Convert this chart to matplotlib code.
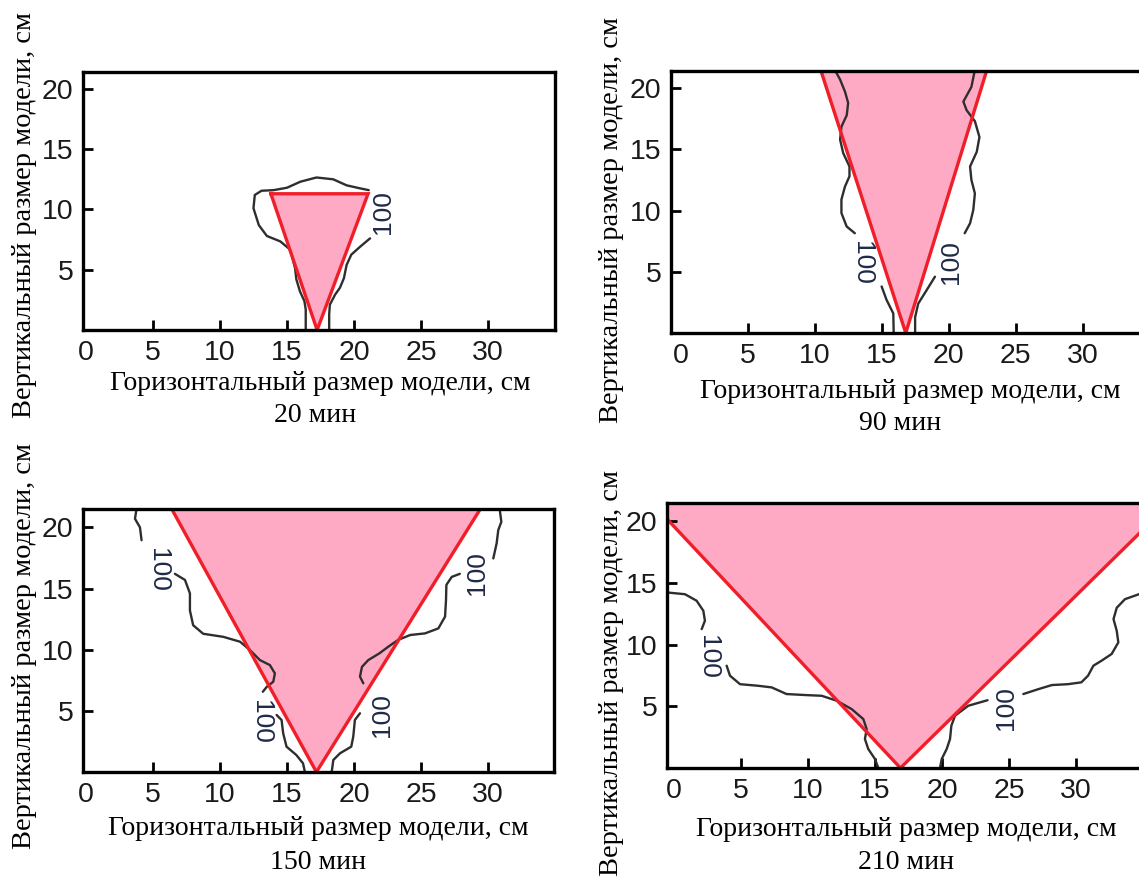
import matplotlib
matplotlib.use('Agg')
import matplotlib.pyplot as plt
from matplotlib.patches import Polygon

# ---------------- data ----------------
captions = ['20 мин', '90 мин', '150 мин', '210 мин']
xlabel_text = 'Горизонтальный размер модели, см'
ylabel_text = 'Вертикальный размер модели, см'
xticks = [0, 5, 10, 15, 20, 25, 30]
yticks = [5, 10, 15, 20]
contour_value = '100'

# panel 1 (20 min)
p1_tri_x = [17.25, 13.8, 21.05]
p1_tri_y = [0.0, 11.3, 11.3]
p1_closed = True
p1_seg1_x = [16.4, 16.4, 16.3, 15.97, 15.7, 15.6, 15.4, 15.2, 14.5, 13.5, 12.9, 12.5, 12.6, 13.1, 14.0, 15.0, 16.0, 17.2, 18.45, 19.45, 20.45, 21.1]
p1_seg1_y = [0.0, 1.7, 2.4, 3.2, 4.2, 5.15, 6.0, 6.7, 7.35, 7.8, 8.7, 10.1, 11.2, 11.55, 11.6, 11.8, 12.3, 12.65, 12.5, 12.0, 11.75, 11.6]
p1_seg2_x = [21.2, 20.45, 19.8, 19.45, 19.25, 18.95, 18.6, 18.2, 18.15, 18.15]
p1_seg2_y = [7.6, 6.9, 6.25, 5.4, 4.3, 3.5, 2.95, 2.1, 1.3, 0.0]
p1_lab_x = [22.2]
p1_lab_y = [9.8]
p1_lab_rot = [90]

# panel 2 (90 min)
p2_tri_x = [16.8, 10.3, 23.0]
p2_tri_y = [0.0, 22.0, 22.0]
p2_closed = False
p2_seg1_x = [11.45, 11.9, 12.27, 12.5, 12.4, 12.0, 11.9, 12.13, 12.6, 12.6, 12.26, 12.0, 12.0, 12.39, 13.0]
p2_seg1_y = [21.6, 20.7, 19.7, 18.8, 17.8, 16.85, 15.8, 14.7, 13.6, 12.8, 11.95, 10.9, 9.8, 8.7, 8.15]
p2_seg2_x = [15.0, 15.37, 15.87, 15.9]
p2_seg2_y = [3.8, 2.7, 1.6, 0.0]
p2_seg3_x = [21.98, 21.7, 21.1, 21.34, 21.96, 22.3, 22.1, 21.6, 21.7, 21.96, 21.84, 21.6, 21.2]
p2_seg3_y = [21.6, 20.1, 18.9, 18.2, 17.3, 16.0, 14.8, 13.6, 12.5, 11.4, 10.05, 8.96, 8.15]
p2_seg4_x = [18.98, 18.36, 17.73, 17.5, 17.5]
p2_seg4_y = [4.6, 3.5, 2.4, 1.3, 0.0]
p2_lab_x = [13.5, 20.2]
p2_lab_y = [5.7, 5.8]
p2_lab_rot = [-90, 90]

# panel 3 (150 min)
p3_tri_x = [17.2, 5.9, 30.0]
p3_tri_y = [0.0, 22.5, 22.5]
p3_closed = False
p3_seg1_x = [3.8, 3.66, 4.03, 4.15]
p3_seg1_y = [21.7, 20.7, 20.0, 18.95]
p3_seg2_x = [6.64, 7.39, 7.76, 7.76, 8.0, 8.75, 10.25, 11.5, 12.24, 12.98, 13.73, 14.1, 13.98, 13.5, 13.2]
p3_seg2_y = [16.2, 15.7, 14.6, 13.2, 12.0, 11.3, 11.05, 10.65, 9.97, 9.15, 8.74, 8.06, 7.38, 6.97, 6.56]
p3_seg3_x = [14.23, 14.6, 14.72, 14.97, 15.7, 16.2, 16.34]
p3_seg3_y = [4.66, 4.25, 3.16, 2.07, 1.39, 0.71, 0.0]
p3_seg4_x = [30.85, 31.0, 30.77, 30.65, 30.4]
p3_seg4_y = [21.7, 20.45, 19.77, 18.7, 17.46]
p3_seg5_x = [27.9, 27.3, 26.9, 26.87, 26.8, 26.3, 25.3, 24.2, 23.3, 22.56, 21.9, 21.07, 20.6, 20.45, 20.7]
p3_seg5_y = [16.2, 15.95, 15.3, 14.05, 12.7, 11.74, 11.33, 11.2, 10.8, 10.24, 9.7, 9.15, 8.6, 7.8, 7.25]
p3_seg6_x = [20.45, 20.07, 19.95, 19.8, 18.96, 18.46, 18.34]
p3_seg6_y = [4.8, 4.25, 2.9, 2.07, 1.53, 0.98, 0.0]
p3_lab_x = [5.4, 13.1, 29.15, 22.07]
p3_lab_y = [16.5, 4.1, 16.3, 4.66]
p3_lab_rot = [-90, -90, 90, 90]

# panel 4 (210 min)
p4_tri_x = [16.9, -2.07, 37.5]
p4_tri_y = [0.0, 22.0, 22.0]
p4_closed = False
p4_seg1_x = [-0.6, 0.82, 1.69, 2.19, 2.31, 2.07]
p4_seg1_y = [14.25, 14.1, 13.57, 12.76, 11.95, 11.27]
p4_seg2_x = [3.93, 4.18, 4.93, 6.29, 7.29, 8.4, 9.78, 11.02, 12.14, 13.26, 14.13, 14.38, 14.25, 14.5, 15.0, 15.25]
p4_seg2_y = [8.3, 7.49, 6.8, 6.67, 6.54, 6.0, 5.92, 5.86, 5.46, 4.78, 3.97, 3.16, 2.35, 1.54, 0.73, 0.0]
p4_seg3_x = [35.5, 34.7, 33.66, 33.04, 32.8, 33.04, 33.16, 32.66, 31.9, 31.3, 30.9, 30.4, 29.4, 28.2, 27.2, 26.07]
p4_seg3_y = [14.3, 14.1, 13.7, 13.0, 12.08, 11.13, 10.19, 9.25, 8.7, 8.3, 7.49, 6.95, 6.8, 6.73, 6.4, 6.0]
p4_seg4_x = [23.4, 21.96, 20.97, 20.7, 20.6, 20.35, 19.98, 19.85]
p4_seg4_y = [5.5, 5.05, 4.24, 3.43, 2.35, 1.54, 0.73, 0.0]
p4_lab_x = [2.56, 24.75]
p4_lab_y = [8.98, 4.85]
p4_lab_rot = [-90, 90]

# ---------------- layout / style ----------------
W, H = 1139, 880
fig = plt.figure(figsize=(W / 100, H / 100), dpi=100)
fig.patch.set_facecolor('white')

SANS = ['Liberation Sans', 'DejaVu Sans']
SERIF = ['Liberation Serif', 'DejaVu Serif']
PINK = '#FFAAC5'
RED = '#F01E28'
LINE = '#2e2e2e'
LABC = '#1f2a48'

# pixel boxes: left, top, width, bottom ; xlim ; ylim
boxes = [
    dict(l=83, t=72, w=472, b=330, xlim=(-0.22, 35.0), ylim=(0, 21.4)),
    dict(l=671, t=71, w=477, b=333, xlim=(-0.72, 34.88), ylim=(0, 21.4)),
    dict(l=83, t=509, w=471, b=772, xlim=(-0.22, 34.93), ylim=(0, 21.5)),
    dict(l=667, t=503, w=478, b=768, xlim=(-0.52, 35.15), ylim=(0, 21.5)),
]
panels = [
    (p1_tri_x, p1_tri_y, p1_closed, [(p1_seg1_x, p1_seg1_y), (p1_seg2_x, p1_seg2_y)],
     (p1_lab_x, p1_lab_y, p1_lab_rot)),
    (p2_tri_x, p2_tri_y, p2_closed, [(p2_seg1_x, p2_seg1_y), (p2_seg2_x, p2_seg2_y),
                                     (p2_seg3_x, p2_seg3_y), (p2_seg4_x, p2_seg4_y)],
     (p2_lab_x, p2_lab_y, p2_lab_rot)),
    (p3_tri_x, p3_tri_y, p3_closed, [(p3_seg1_x, p3_seg1_y), (p3_seg2_x, p3_seg2_y),
                                     (p3_seg3_x, p3_seg3_y), (p3_seg4_x, p3_seg4_y),
                                     (p3_seg5_x, p3_seg5_y), (p3_seg6_x, p3_seg6_y)],
     (p3_lab_x, p3_lab_y, p3_lab_rot)),
    (p4_tri_x, p4_tri_y, p4_closed, [(p4_seg1_x, p4_seg1_y), (p4_seg2_x, p4_seg2_y),
                                     (p4_seg3_x, p4_seg3_y), (p4_seg4_x, p4_seg4_y)],
     (p4_lab_x, p4_lab_y, p4_lab_rot)),
]
# caption / label positions in pixels
xlabel_pos = [(320, 383), (910, 391), (318, 828), (906, 829)]
caption_pos = [(315, 416), (900, 423), (318, 862), (906, 862)]
ylabel_pos = [(25, 215), (612, 220), (25, 646), (612, 673)]

for i, (box, panel) in enumerate(zip(boxes, panels)):
    tx, ty, closed, segs, labs = panel
    ax = fig.add_axes([box['l'] / W, 1 - box['b'] / H, box['w'] / W, (box['b'] - box['t']) / H])
    ax.set_xlim(*box['xlim'])
    ax.set_ylim(*box['ylim'])
    # pink fill
    ax.add_patch(Polygon(list(zip(tx, ty)), closed=True, facecolor=PINK, edgecolor='none', zorder=1))
    # contour lines
    for sx, sy in segs:
        ax.plot(sx, sy, color=LINE, lw=1.7, zorder=2, solid_capstyle='round',
                solid_joinstyle='round')
    # red edges
    ex = [tx[1], tx[0], tx[2]] + ([tx[1]] if closed else [])
    ey = [ty[1], ty[0], ty[2]] + ([ty[1]] if closed else [])
    ax.plot(ex, ey, color=RED, lw=2.4, zorder=3, solid_joinstyle='miter')
    # contour labels
    for lx, ly, lr in zip(*labs):
        ax.text(lx, ly, contour_value, rotation=lr, ha='center', va='center',
                fontsize=19, color=LABC, family=SANS, zorder=4)
    # axes style
    for sp in ax.spines.values():
        sp.set_linewidth(2.4)
        sp.set_color('black')
        sp.set_zorder(5)
    ax.set_xticks(xticks)
    ax.set_yticks(yticks)
    ax.tick_params(direction='in', length=7, width=2, colors='black', labelcolor='#1a1a1a',
                   labelsize=20.5, pad=7)
    for lbl in ax.get_xticklabels() + ax.get_yticklabels():
        lbl.set_family(SANS)
    # tick mark at x=0 coincides with the spine
    ax.xaxis.get_major_ticks()[0].tick1line.set_visible(False)

    fig.text(xlabel_pos[i][0] / W, 1 - xlabel_pos[i][1] / H, xlabel_text,
             ha='center', va='center', fontsize=20, family=SERIF, color='black')
    fig.text(caption_pos[i][0] / W, 1 - caption_pos[i][1] / H, captions[i],
             ha='center', va='center', fontsize=20, family=SERIF, color='black')
    fig.text(ylabel_pos[i][0] / W, 1 - ylabel_pos[i][1] / H, ylabel_text,
             ha='center', va='center', rotation=90, fontsize=20.5, family=SERIF, color='black')

fig.savefig('out.png', dpi=100, facecolor='white')
